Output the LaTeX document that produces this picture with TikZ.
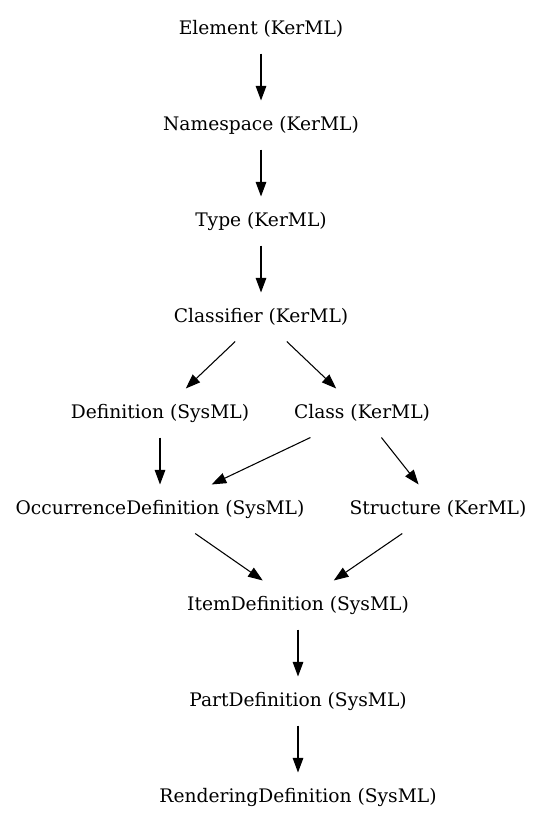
\documentclass[tikz,border=0pt]{standalone}
\usepackage{fontspec}
\setmainfont{DejaVu Serif}
\usetikzlibrary{arrows.meta}
\tikzset{
    cls/.style={inner sep=0pt,minimum height=36pt,font=\fontsize{14}{16}\selectfont},
}
\begin{document}
\begin{tikzpicture}[>={Triangle[length=11pt,width=8pt]},x=0.75pt,y=-0.75pt,line width=0.8pt]
        \useasboundingbox (0,0) rectangle (543,827);
        \node[cls] (element) at (261,29) {Element (KerML)};
        \node[cls] (namespace) at (261,125) {Namespace (KerML)};
        \node[cls] (type) at (261,221) {Type (KerML)};
        \node[cls] (classifier) at (261,317) {Classifier (KerML)};
        \node[cls] (definition) at (160,413) {Definition (SysML)};
        \node[cls] (class) at (362,413) {Class (KerML)};
        \node[cls] (occdef) at (160,509) {OccurrenceDefinition (SysML)};
        \node[cls] (structure) at (438,509) {Structure (KerML)};
        \node[cls] (itemdef) at (298,605) {ItemDefinition (SysML)};
        \node[cls] (partdef) at (298,701) {PartDefinition (SysML)};
        \node[cls] (renderdef) at (298,797) {RenderingDefinition (SysML)};
        \draw[->] (element)--(namespace);
        \draw[->] (namespace)--(type);
        \draw[->] (type)--(classifier);
        \draw[->] (classifier)--(definition);
        \draw[->] (classifier)--(class);
        \draw[->] (definition)--(occdef);
        \draw[->] (class)--(occdef);
        \draw[->] (class)--(structure);
        \draw[->] (occdef)--(itemdef);
        \draw[->] (structure)--(itemdef);
        \draw[->] (itemdef)--(partdef);
        \draw[->] (partdef)--(renderdef);
    \end{tikzpicture}
\end{document}
